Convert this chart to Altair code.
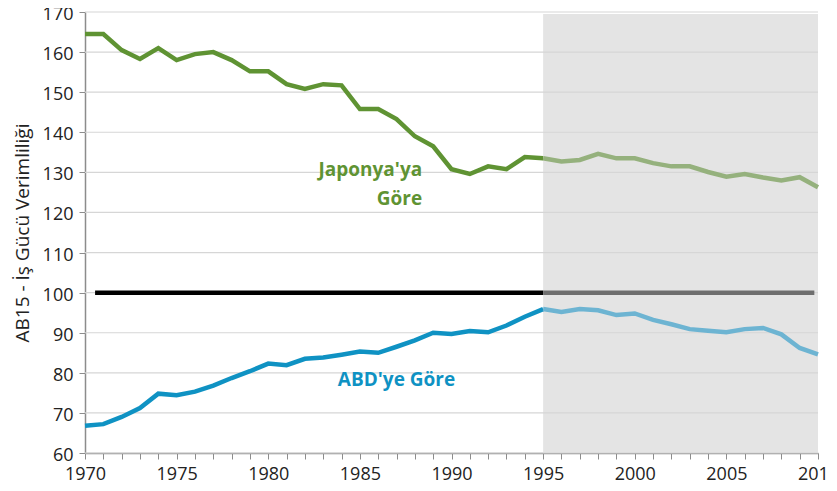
import altair as alt
import pandas as pd

years = list(range(1970, 2011))
japan = [164.5, 164.5, 160.5, 158.3, 161.0, 158.0, 159.5, 160.0, 158.0, 155.2,
         155.2, 152.0, 150.8, 152.0, 151.7, 145.8, 145.8, 143.3, 139.0, 136.5,
         130.8, 129.6, 131.5, 130.8, 133.8, 133.5, 132.7, 133.1, 134.6, 133.5,
         133.5, 132.3, 131.5, 131.5, 130.1, 128.9, 129.6, 128.7, 128.0, 128.8,
         126.3]
usa = [66.8, 67.2, 69.0, 71.2, 74.8, 74.4, 75.3, 76.8, 78.7, 80.4,
       82.3, 81.9, 83.5, 83.8, 84.5, 85.3, 85.0, 86.5, 88.1, 90.0,
       89.7, 90.4, 90.1, 91.8, 94.0, 95.9, 95.2, 95.9, 95.6, 94.4,
       94.8, 93.2, 92.1, 90.9, 90.5, 90.1, 90.9, 91.2, 89.6, 86.2,
       84.6]
split_year = 1995
grid_values = list(range(60, 171, 10))

seg_names = ["jp_hist", "jp_proj", "us_hist", "us_proj"]
seg_colors = ["#5F9333", "#95B17D", "#0F92C3", "#6DB4D2"]

rows = []
for y, j, u in zip(years, japan, usa):
    if y <= split_year:
        rows.append({"year": y, "value": j, "seg": "jp_hist"})
        rows.append({"year": y, "value": u, "seg": "us_hist"})
    if y >= split_year:
        rows.append({"year": y, "value": j, "seg": "jp_proj"})
        rows.append({"year": y, "value": u, "seg": "us_proj"})
df = pd.DataFrame(rows)

ref_df = pd.DataFrame({
    "x": [1970.55, 1995.0],
    "x2": [1995.0, 2009.8],
    "y": [100, 100],
    "c": ["#000000", "#6E6E6E"],
})
shade_df = pd.DataFrame({"x": [1995], "x2": [2010], "y": [60], "y2": [169.5]})
grid_df = pd.DataFrame({"y": grid_values})
labels_r = pd.DataFrame({
    "x": [1988.4, 1988.4],
    "y": [130.6, 123.4],
    "text": ["Japonya'ya", "Göre"],
})
labels_c = pd.DataFrame({"x": [1987.0], "y": [78.2], "text": ["ABD'ye Göre"]})

FONT = "Open Sans"
xscale = alt.Scale(domain=[1970, 2010], nice=False, zero=False)
yscale = alt.Scale(domain=[60, 170], nice=False, zero=False)

x_axis = alt.Axis(values=years, tickCount=41, format="d", grid=False,
                  labelExpr="datum.value % 5 == 0 ? datum.label : ''",
                  labelFlush=False, labelOverlap=False, labelPadding=6,
                  title=None)
y_axis = alt.Axis(values=grid_values, grid=False, labelPadding=6, labelOffset=2.5,
                  title="AB15 - İş Gücü Verimliliği", titlePadding=10)


def X(field):
    return alt.X(field, scale=xscale, axis=x_axis)


def Y(field):
    return alt.Y(field, scale=yscale, axis=y_axis)


shade = alt.Chart(shade_df).mark_rect(color="#E4E4E4").encode(
    x=X("x:Q"), x2="x2:Q", y=Y("y:Q"), y2="y2:Q",
)

grid = alt.Chart(grid_df).mark_rule(color="#D6D6D6", strokeWidth=1.2).encode(
    y=Y("y:Q")
)

ref = alt.Chart(ref_df).mark_rule(strokeWidth=4.5).encode(
    x=X("x:Q"), x2="x2:Q", y=Y("y:Q"),
    color=alt.Color("c:N", scale=None, legend=None),
)

lines = alt.Chart(df).mark_line(strokeWidth=4.5).encode(
    x=X("year:Q"),
    y=Y("value:Q"),
    color=alt.Color("seg:N", scale=alt.Scale(domain=seg_names, range=seg_colors),
                    legend=None),
    detail="seg:N",
)

text_r = alt.Chart(labels_r).mark_text(
    font=FONT, fontSize=19, fontWeight="bold", baseline="middle", align="right",
    color="#5F9333",
).encode(x=X("x:Q"), y=Y("y:Q"), text="text:N")

text_c = alt.Chart(labels_c).mark_text(
    font=FONT, fontSize=19, fontWeight="bold", baseline="middle", align="center",
    color="#0F92C3",
).encode(x=X("x:Q"), y=Y("y:Q"), text="text:N")

chart = alt.layer(shade, grid, ref, lines, text_r, text_c).properties(
    width=733, height=441,
    autosize=alt.AutoSizeParams(type="none"),
    padding={"left": 77, "top": 4, "right": 11, "bottom": 30},
    background="white",
).configure_view(stroke=None).configure_axis(
    labelFont=FONT, labelFontSize=18, labelColor="#222222",
    tickColor="#8c8c8c", tickSize=6, domainColor="#8c8c8c", domainWidth=1.5,
    titleFont=FONT, titleFontSize=19, titleFontWeight="normal",
    titleColor="#222222",
)

chart.save("out.html", embed_options={"renderer": "svg", "actions": False})
